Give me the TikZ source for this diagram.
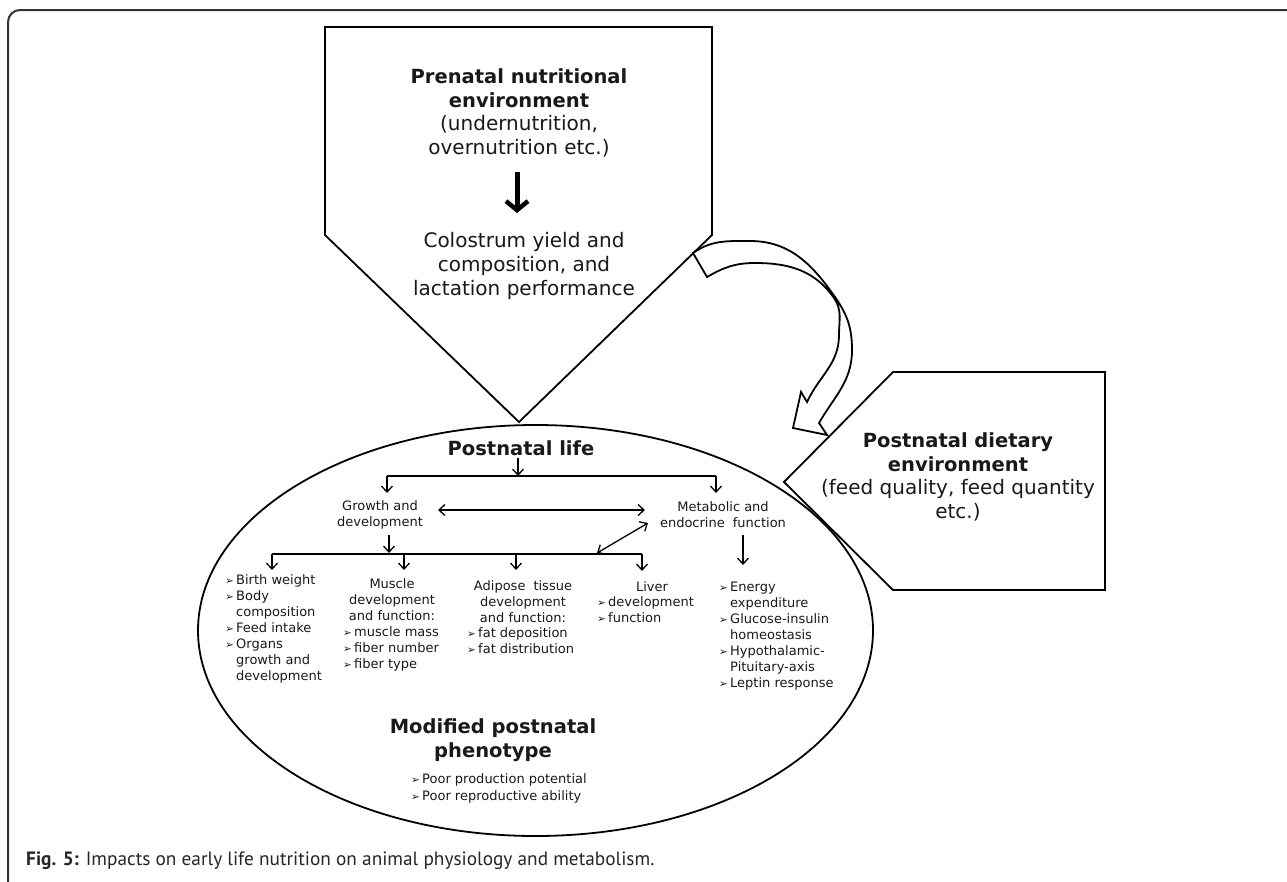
\documentclass[tikz,border=0pt]{standalone}
\usepackage{fontspec}
\setmainfont{DejaVu Sans}
\newfontfamily\capfont{PT Sans}
\usetikzlibrary{arrows.meta,calc}
\newcommand\bul{\makebox[11pt][l]{\fontsize{10.5}{10.5}\selectfont ➢}}
\newcommand\ind{\hspace*{11pt}}
\begin{document}
\begin{tikzpicture}[x=1pt,y=-1pt,
  txt/.style={inner sep=0pt, text=black!90},
  bigtxt/.style={txt, align=center, font=\fontsize{20}{23.7}\selectfont},
  bigb/.style={txt, font=\fontsize{19.5}{24}\selectfont\bfseries},
  smalltxt/.style={txt, font=\fontsize{13}{16}\selectfont},
  listtxt/.style={smalltxt, align=left, anchor=west},
  shapeline/.style={draw=black, line width=1.8pt},
  arr/.style={line width=1.3pt, -{Straight Barb[length=6pt,width=11pt]}},
  darr/.style={line width=1.3pt, {Straight Barb[length=6pt,width=11pt]}-{Straight Barb[length=6pt,width=11pt]}},
  barline/.style={line width=1.4pt},
]
\useasboundingbox (0,0) rectangle (1287,881);
% outer frame
\draw[line width=2pt, black!80, rounded corners=12pt] (1300,10) -- (8,10) -- (8,895);

% top pentagon
\draw[shapeline, fill=white] (325,27) -- (712,27) -- (712,235) -- (519,422) -- (325,235) -- cycle;
% right pentagon
\draw[shapeline] (893,372) -- (1105,372) -- (1105,590) -- (893,590) -- (784,482) -- cycle;
% ellipse
\draw[shapeline] (535.5,630.5) ellipse [x radius=337.5pt, y radius=205.5pt];
% curved arrow
\draw[shapeline, fill=white, line join=miter]
  (693,253) to[out=35,in=180] (750,241) to[out=0,in=125] (835,297) to[out=-55,in=90] (852,350)
  to[out=-90,in=60] (819,423) -- (827,435) -- (793,428) -- (801,392) -- (807,402)
  to[out=65,in=-90] (839,335) to[out=90,in=-55] (834,298) to[out=125,in=0] (755,263) to[out=180,in=30] (707,277) -- cycle;

% top pentagon texts
\node[bigtxt] (pre) at (519,113) {{\bfseries\fontsize{19.5}{23.7}\selectfont Prenatal nutritional}\\{\bfseries\fontsize{19.5}{23.7}\selectfont environment}\\(undernutrition,\\overnutrition etc.)};
\node[bigtxt] (colo) at (524,266) {Colostrum yield and\\composition, and\\lactation performance};
\coordinate (ta1) at (517,172);
\coordinate (ta2) at (517,213);
\draw[line width=5pt, -{Straight Barb[length=9pt,width=22pt,line width=4.5pt]}] (ta1) -- (ta2);

% right pentagon text
\node[bigtxt] (diet) at (958,477) {{\bfseries\fontsize{19.5}{23.7}\selectfont Postnatal dietary}\\{\bfseries\fontsize{19.5}{23.7}\selectfont environment}\\(feed quality, feed quantity\\etc.)};

% ellipse content
\node[bigb] (pl) at (521,448) {Postnatal life};
\node[smalltxt, align=center] (gd) at (380,515) {Growth and\\development};
\node[smalltxt, align=center] (me) at (723,515) {Metabolic and\\endocrine\hspace{0.3em} function};

\coordinate (b1l) at (387,476);
\coordinate (b1m) at (518,476);
\coordinate (b1r) at (716,476);
\coordinate (pls) at (518,458);
\coordinate (gdt) at (387,493);
\coordinate (met) at (716,493);
\draw[barline] (b1l) -- (b1r);
\draw[arr] (pls) -- (b1m);
\draw[arr] (b1l) -- (gdt);
\draw[arr] (b1r) -- (met);

\coordinate (gde) at (438,510);
\coordinate (mew) at (645,510);
\draw[darr] (gde) -- (mew);

\coordinate (gdb) at (389,535);
\coordinate (b2m) at (389,553);
\draw[arr] (gdb) -- (b2m);
\coordinate (b2a) at (272,554);
\coordinate (b2b) at (404,554);
\coordinate (b2c) at (516,554);
\coordinate (b2d) at (642,554);
\coordinate (b2x) at (597,553);
\coordinate (mesw) at (648,523);
\draw[barline] (b2a) -- (b2d);
\draw[darr] (mesw) -- (b2x);
\coordinate (c1t) at (272,570);
\coordinate (c2t) at (404,570);
\coordinate (c3t) at (516,570);
\coordinate (c4t) at (642,571);
\draw[arr] (b2a) -- (c1t);
\draw[arr] (b2b) -- (c2t);
\draw[arr] (b2c) -- (c3t);
\draw[arr] (b2d) -- (c4t);
\coordinate (meb) at (743,535);
\coordinate (c5t) at (743,565);
\draw[arr] (meb) -- (c5t);

\node[listtxt] (c1) at (225,629) {\bul Birth weight\\\bul Body\\\ind composition\\\bul Feed intake\\\bul Organs\\\ind growth and\\\ind development};
\node[smalltxt, align=center] (c2h) at (392,600) {Muscle\\development\\and function:};
\node[listtxt] (c2l) at (343,649) {\bul muscle mass\\\bul fiber number\\\bul fiber type};
\node[smalltxt, align=center] (c3h) at (523,602) {Adipose\hspace{0.3em} tissue\\development\\and function:};
\node[listtxt] (c3l) at (467,641) {\bul fat deposition\\\bul fat distribution};
\node[smalltxt] (c4h) at (652,587) {Liver};
\node[listtxt] (c4l) at (597,610) {\bul development\\\bul function};
\node[listtxt] (c5) at (719,636) {\bul Energy\\\ind expenditure\\\bul Glucose-insulin\\\ind homeostasis\\\bul Hypothalamic-\\\ind Pituitary-axis\\\bul Leptin response};

\node[bigb, align=center] (mod) at (493,740) {Modified postnatal\\phenotype};
\node[txt, align=left, anchor=west, font=\fontsize{13}{17}\selectfont] (poor) at (411,788) {\bul Poor production potential\\\bul Poor reproductive ability};

% caption
\node[txt, anchor=west, text=black!85, font=\capfont\fontsize{19.3}{22}\selectfont] (cap) at (26,861) {\textbf{Fig. 5:} Impacts on early life nutrition on animal physiology and metabolism.};
\end{tikzpicture}
\end{document}
